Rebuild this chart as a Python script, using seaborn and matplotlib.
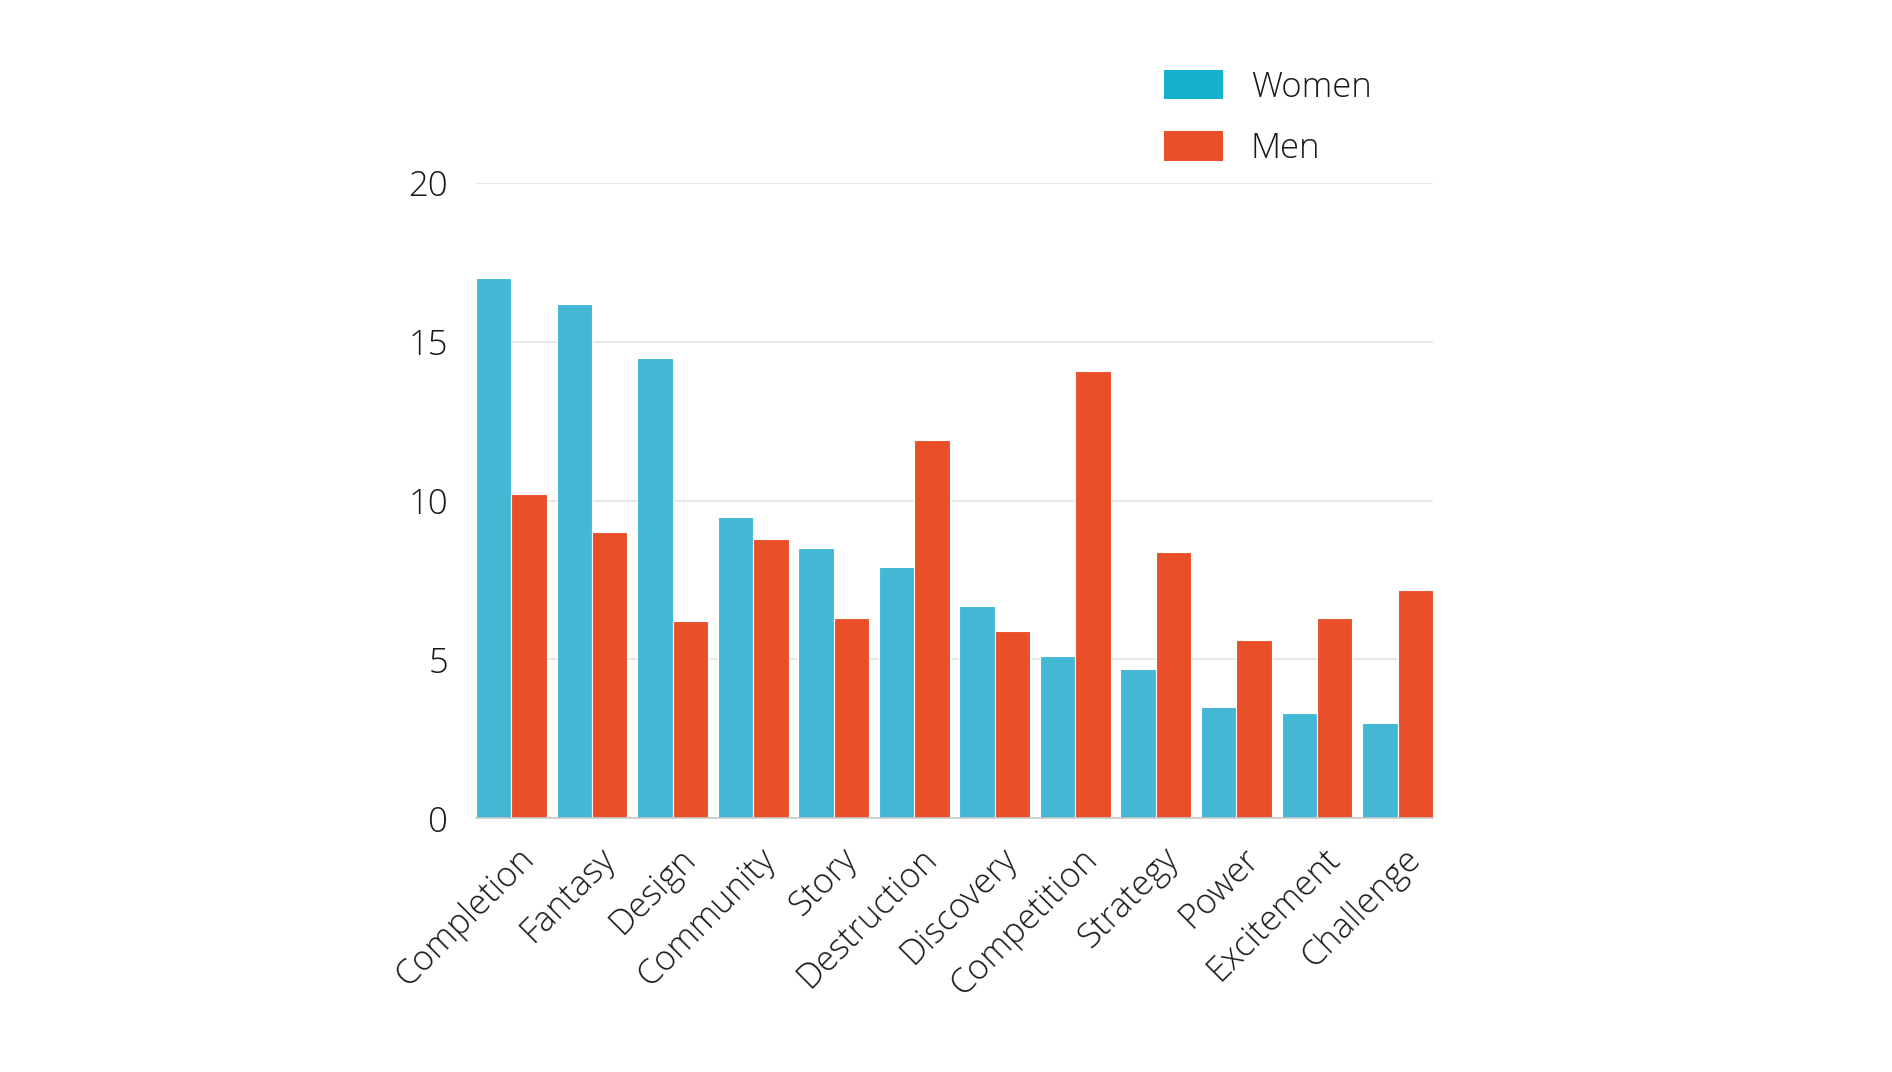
import numpy as np
import pandas as pd
import matplotlib
matplotlib.use("Agg")
import matplotlib.pyplot as plt
from matplotlib import font_manager as fm
import seaborn as sns
from matplotlib.patches import Patch

categories = ["Completion", "Fantasy", "Design", "Community", "Story", "Destruction",
              "Discovery", "Competition", "Strategy", "Power", "Excitement", "Challenge"]
women = [17.0, 16.2, 14.5, 9.5, 8.5, 7.9, 6.7, 5.1, 4.7, 3.5, 3.3, 3.0]
men = [10.2, 9.0, 6.2, 8.8, 6.3, 11.9, 5.9, 14.1, 8.4, 5.6, 6.3, 7.2]
series = ["Women", "Men"]
y_ticks = [0, 5, 10, 15, 20]

bar_colors = {"Women": "#42B8D4", "Men": "#E9502A"}
legend_colors = {"Women": "#14B1CD", "Men": "#E9502A"}

sns.set_theme(style="white")

# prefer a light weight of Open Sans if one is installed
light_ok = any(f.name == "Open Sans" and (isinstance(f.weight, int) and f.weight <= 300
                                          or f.weight in ("light", "extra light"))
               for f in fm.fontManager.ttflist)
plt.rcParams["font.family"] = ["Open Sans", "DejaVu Sans"]
plt.rcParams["font.weight"] = "light" if light_ok else "normal"
txt_color = "#1a1a1a" if light_ok else "#3a3a3a"
plt.rcParams["text.color"] = txt_color
plt.rcParams["xtick.color"] = txt_color
plt.rcParams["ytick.color"] = txt_color
fs = 25

df = pd.DataFrame({
    "Motivation": categories * 2,
    "Gender": [series[0]] * len(categories) + [series[1]] * len(categories),
    "Score": women + men,
})

fig = plt.figure(figsize=(18.92, 10.72), dpi=100)
fig.patch.set_facecolor("white")
ax = fig.add_axes([0.2516, 0.2367, 0.5058, 0.5924])

sns.barplot(data=df, x="Motivation", y="Score", hue="Gender", hue_order=series,
            order=categories, palette=bar_colors, width=0.88, saturation=1,
            edgecolor="white", linewidth=0.8, legend=False, ax=ax)

ax.set_xlim(-0.44, len(categories) - 1 + 0.44)
ax.set_ylim(0, 20)
ax.set_yticks(y_ticks)
ax.set_yticklabels([str(t) for t in y_ticks], fontsize=fs)
ax.set_xlabel("")
ax.set_ylabel("")

ax.yaxis.grid(True, color="#e4e4e4", linewidth=1.2)
ax.set_axisbelow(True)
for side in ["top", "right", "left"]:
    ax.spines[side].set_visible(False)
ax.spines["bottom"].set_color("#c8c8c8")
ax.spines["bottom"].set_linewidth(1.2)
ax.spines["bottom"].set_zorder(5)

tick_pos = np.arange(len(categories)) + 0.3
ax.set_xticks(tick_pos)
ax.set_xticklabels(categories, fontsize=fs)
ax.tick_params(axis="x", length=0, pad=30)
ax.tick_params(axis="y", length=0, pad=20)
for lbl in ax.get_xticklabels():
    lbl.set_rotation(45)
    lbl.set_ha("right")
    lbl.set_va("baseline")
    lbl.set_rotation_mode("anchor")

handles = [Patch(facecolor=legend_colors[s], edgecolor="none", label=s) for s in series]
ax.legend(handles=handles, loc="upper left",
          bbox_to_anchor=(1164 / 1892, 1 - 70 / 1072), bbox_transform=fig.transFigure,
          frameon=False, borderpad=0, borderaxespad=0, handlelength=1.70,
          handleheight=0.92, handletextpad=0.8, labelspacing=0.77, fontsize=fs)

fig.savefig("out.png", dpi=100, facecolor="white")
